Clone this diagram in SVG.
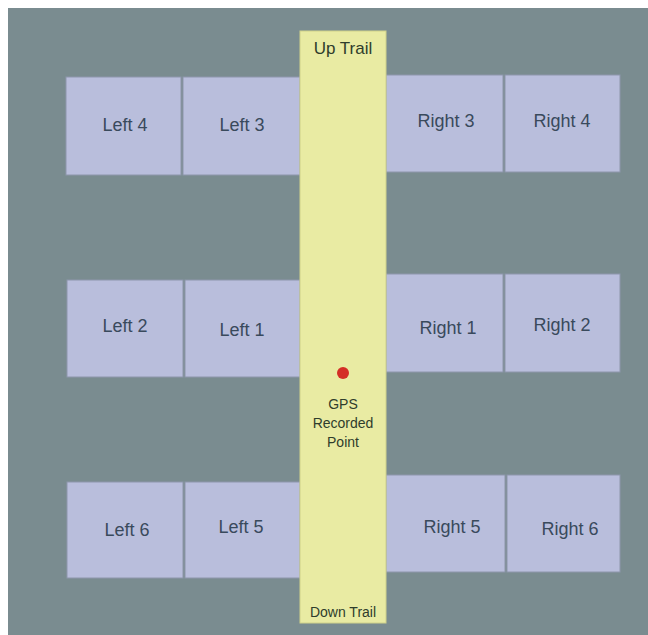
<svg xmlns="http://www.w3.org/2000/svg" width="648" height="635" viewBox="0 0 648 635">
<style>
.plot{fill:#b9bedc;stroke:#8d96ab;stroke-width:1}
.lbl{font-family:"Liberation Sans",Arial,sans-serif;font-size:18px;fill:#394a5c;text-anchor:middle}
.tl{font-family:"Liberation Sans",Arial,sans-serif;fill:#2f3d2c;text-anchor:middle}
</style>
<rect x="0" y="0" width="648" height="635" fill="#ffffff"/>
<rect x="8" y="8" width="640" height="627" fill="#7a8c90"/>
<g id="left4"><rect class="plot" x="66" y="77" width="115" height="98"/><text class="lbl" x="125" y="131">Left 4</text></g>
<g id="left3"><rect class="plot" x="183" y="77" width="117" height="98"/><text class="lbl" x="242" y="131">Left 3</text></g>
<g id="right3"><rect class="plot" x="386" y="75" width="117" height="97"/><text class="lbl" x="446" y="127">Right 3</text></g>
<g id="right4"><rect class="plot" x="505" y="75" width="115" height="97"/><text class="lbl" x="562" y="127">Right 4</text></g>
<g id="left2"><rect class="plot" x="67" y="280" width="116" height="97"/><text class="lbl" x="125" y="332">Left 2</text></g>
<g id="left1"><rect class="plot" x="185" y="280" width="115" height="97"/><text class="lbl" x="242" y="336">Left 1</text></g>
<g id="right1"><rect class="plot" x="386" y="274" width="117" height="98"/><text class="lbl" x="448" y="334">Right 1</text></g>
<g id="right2"><rect class="plot" x="505" y="274" width="115" height="98"/><text class="lbl" x="562" y="331">Right 2</text></g>
<g id="left6"><rect class="plot" x="67" y="482" width="116" height="96"/><text class="lbl" x="127" y="536">Left 6</text></g>
<g id="left5"><rect class="plot" x="185" y="482" width="115" height="96"/><text class="lbl" x="241" y="533">Left 5</text></g>
<g id="right5"><rect class="plot" x="386" y="475" width="119" height="97"/><text class="lbl" x="452" y="533">Right 5</text></g>
<g id="right6"><rect class="plot" x="507" y="475" width="113" height="97"/><text class="lbl" x="570" y="535">Right 6</text></g>
<g id="trail">
<rect x="300" y="31" width="86" height="592" fill="#e9eba3" stroke="#cfd18a" stroke-width="1"/>
<text class="tl" x="343" y="54" font-size="17">Up Trail</text>
<text class="tl" x="343" y="617" font-size="14">Down Trail</text>
</g>
<g id="gps">
<circle cx="343" cy="373" r="6" fill="#d42e26"/>
<text class="tl" x="343" y="409" font-size="14">GPS</text>
<text class="tl" x="343" y="428" font-size="14">Recorded</text>
<text class="tl" x="343" y="447" font-size="14">Point</text>
</g>
<g id="connectors"/>
</svg>
